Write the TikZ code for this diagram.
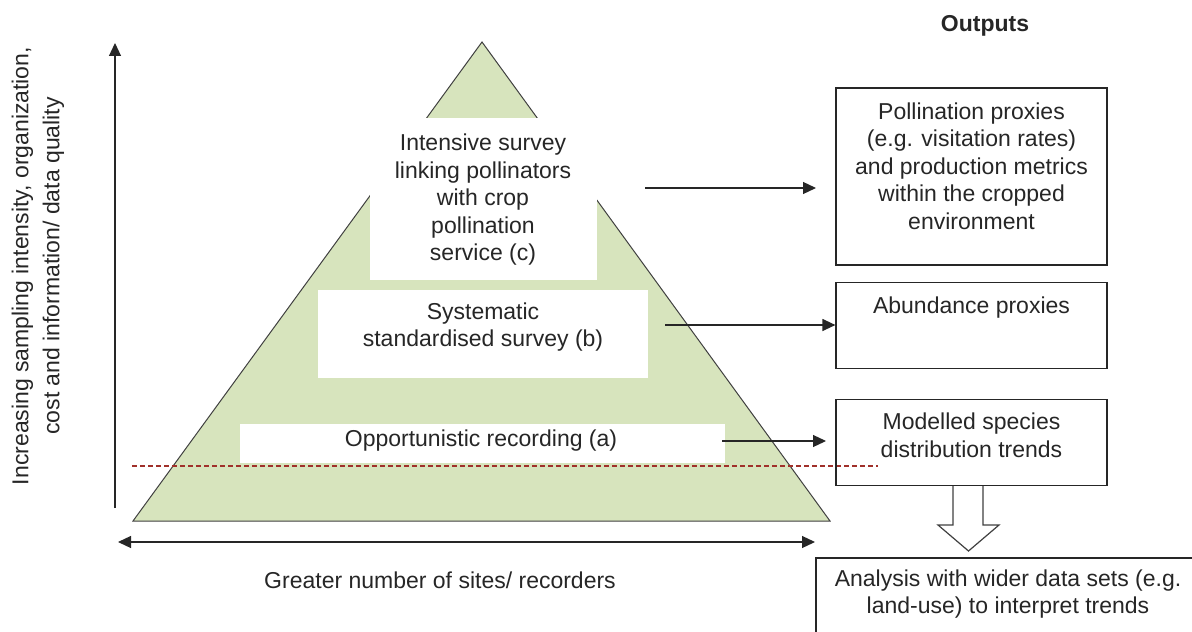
\documentclass[tikz,border=0pt]{standalone}
\usepackage{fontspec}
\setmainfont{Liberation Sans}
\usepackage{tikz}
\usetikzlibrary{positioning, arrows.meta, calc}
\usepackage{xcolor}
\definecolor{PyramidGreen}{HTML}{D7E4BD}
\definecolor{EdgeGray}{HTML}{404040}
\definecolor{CutRed}{HTML}{A0302A}
\definecolor{InkGray}{HTML}{262626}

\begin{document}
\begin{tikzpicture}[x=0.5pt, y=-0.5pt,
        font=\fontsize{11.5}{13.75}\selectfont, text=InkGray,
        pyramid/.style={fill=PyramidGreen, draw=EdgeGray, line width=0.5pt, line join=miter},
        tier/.style={align=center, inner sep=0pt},
        outbox/.style={draw=InkGray, line width=0.6pt, minimum width=135.5pt, inner sep=0pt},
        outtext/.style={align=center, inner sep=0pt},
        feed/.style={-{Triangle[length=6.5pt, width=6pt]}, line width=0.6pt, draw=InkGray},
        axis/.style={line width=0.6pt, draw=InkGray},
        hollow/.style={fill=white, draw=EdgeGray, line width=0.6pt}]
                \useasboundingbox (0,0) rectangle (1192,631);
                \coordinate (apex) at (482,42);
                \coordinate (baseL) at (133,521);
                \coordinate (baseR) at (830,521);
                \filldraw[pyramid] (apex) -- (baseL) -- (baseR) -- cycle;
                \fill[white] (370,118) rectangle (597,280);
                \fill[white] (318,290) rectangle (648,378);
                \fill[white] (240,424) rectangle (725,463);
                \node[tier] (survc) at (483,200) {Intensive survey\\linking pollinators\\with crop\\pollination\\service (c)};
                \node[tier] (survb) at (483,327) {Systematic\\standardised survey (b)};
                \node[tier] (surva) at (481,441) {Opportunistic recording (a)};
                \draw[CutRed, line width=0.55pt, dash pattern=on 2.5pt off 1.5pt] (132,466) -- (878,466);
                \node[font=\fontsize{11.5}{13.75}\selectfont\bfseries] (outputs) at (985,26) {Outputs};
                \node[outbox, minimum height=88.5pt] (poll) at (971.5,176.5) {};
                \node[outbox, minimum height=43pt, below=8pt of poll] (abund) {};
                \node[outbox, minimum height=43pt, below=15pt of abund] (model) {};
                \node[outtext, below=7.5pt of poll.north] (polltext) {Pollination proxies\\(e.g. visitation rates)\\and production metrics\\within the cropped\\environment};
                \node[outtext, below=7.5pt of abund.north] (abundtext) {Abundance proxies};
                \node[outtext, below=7pt of model.north] (modeltext) {Modelled species\\distribution trends};
                \node[draw=InkGray, line width=0.6pt, minimum width=192pt, minimum height=39pt, align=center] (analysis) at (1008,597) {};
                \node[outtext] (analysistext) at (1008,594) {Analysis with wider data sets (e.g.\\land-use) to interpret trends};
                \draw[hollow] ($(model.south)+(-18.5,0)$) -- ++(0,39) -- ++(-15,0) -- ++(30.5,26) -- ++(30.5,-26) -- ++(-16,0) -- ++(0,-39);
                \coordinate (fromc) at (645,188);
                \coordinate (toc) at (816,188);
                \coordinate (fromb) at (665,325);
                \coordinate (froma) at (722,441);
                \coordinate (toa) at (826,441);
                \draw[feed] (fromc) -- (toc);
                \draw[feed] (fromb) -- (fromb -| abund.west);
                \draw[feed] (froma) -- (toa);
                \coordinate (vlow) at (115,508);
                \coordinate (vtop) at (115,43);
                \coordinate (hleft) at (118,542);
                \coordinate (hright) at (815,542);
                \draw[axis, -{Triangle[length=6.5pt, width=6pt]}] (vlow) -- (vtop);
                \draw[axis, {Triangle[length=6.5pt, width=6pt]}-{Triangle[length=6.5pt, width=6pt]}] (hleft) -- (hright);
                \node[align=center, rotate=90, inner sep=0pt, font=\fontsize{11.5}{15.5}\selectfont] (quality) at (38,266) {Increasing sampling intensity, organization,\\cost and information/ data quality};
                \node (sites) at (440,580) {Greater number of sites/ recorders};
            \end{tikzpicture}
\end{document}
